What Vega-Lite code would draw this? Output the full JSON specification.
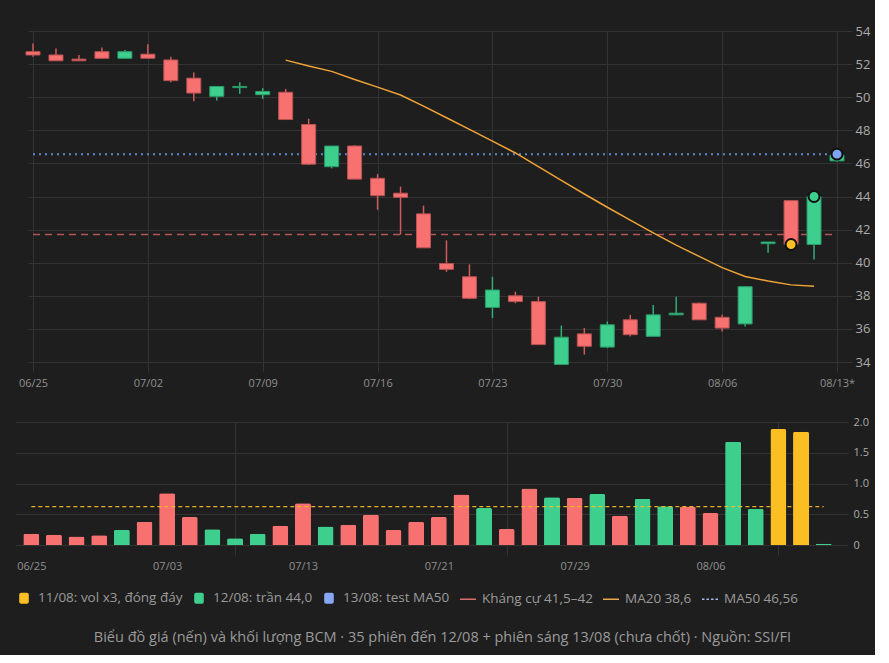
{
  "$schema": "https://vega.github.io/schema/vega-lite/v6.json",
  "background": "#1e1e1e",
  "padding": {"left": 15, "top": 25, "right": 5, "bottom": 10},
  "config": {
    "font": "Open Sans",
    "view": {"stroke": null},
    "axis": {
      "domain": false,
      "gridColor": "#333333",
      "tickColor": "#333333",
      "labelColor": "#8f8f8f",
      "labelFontSize": 11,
      "title": null
    },
    "legend": {
      "orient": "bottom",
      "direction": "horizontal",
      "title": null,
      "labelColor": "#9a9a9a",
      "labelFontSize": 13.5,
      "labelOffset": 5,
      "columnPadding": 7,
      "symbolSize": 256,
      "symbolOpacity": 1,
      "offset": 18
    }
  },
  "title": {
    "text": "Biểu đồ giá (nến) và khối lượng BCM · 35 phiên đến 12/08 + phiên sáng 13/08 (chưa chốt) · Nguồn: SSI/FI",
    "orient": "bottom",
    "anchor": "middle",
    "color": "#9a9a9a",
    "fontSize": 14.5,
    "fontWeight": "normal",
    "offset": 24
  },
  "datasets": {
    "sessions": [
      {"i": 0, "o": 52.75, "h": 53.25, "l": 52.45, "c": 52.55, "v": 0.184},
      {"i": 1, "o": 52.55, "h": 52.95, "l": 52.2, "c": 52.2, "v": 0.168},
      {"i": 2, "o": 52.3, "h": 52.55, "l": 52.2, "c": 52.2, "v": 0.14},
      {"i": 3, "o": 52.75, "h": 53.0, "l": 52.35, "c": 52.35, "v": 0.157},
      {"i": 4, "o": 52.35, "h": 52.85, "l": 52.35, "c": 52.75, "v": 0.25},
      {"i": 5, "o": 52.6, "h": 53.2, "l": 52.35, "c": 52.35, "v": 0.38},
      {"i": 6, "o": 52.25, "h": 52.45, "l": 50.9, "c": 51.0, "v": 0.84},
      {"i": 7, "o": 51.15, "h": 51.5, "l": 49.75, "c": 50.25, "v": 0.456},
      {"i": 8, "o": 50.05, "h": 50.65, "l": 49.8, "c": 50.65, "v": 0.255},
      {"i": 9, "o": 50.58, "h": 50.9, "l": 50.2, "c": 50.65, "v": 0.108},
      {"i": 10, "o": 50.15, "h": 50.55, "l": 49.9, "c": 50.35, "v": 0.184},
      {"i": 11, "o": 50.3, "h": 50.5, "l": 48.65, "c": 48.65, "v": 0.315, "ma": 52.24},
      {"i": 12, "o": 48.35, "h": 48.7, "l": 45.9, "c": 45.95, "v": 0.68, "ma": 51.88},
      {"i": 13, "o": 45.8, "h": 47.05, "l": 45.7, "c": 47.05, "v": 0.30, "ma": 51.56},
      {"i": 14, "o": 47.05, "h": 47.1, "l": 45.05, "c": 45.05, "v": 0.33, "ma": 51.07},
      {"i": 15, "o": 45.1, "h": 45.35, "l": 43.2, "c": 44.05, "v": 0.49, "ma": 50.61},
      {"i": 16, "o": 44.2, "h": 44.6, "l": 41.7, "c": 43.95, "v": 0.245, "ma": 50.13},
      {"i": 17, "o": 42.95, "h": 43.45, "l": 40.9, "c": 40.9, "v": 0.375, "ma": 49.46},
      {"i": 18, "o": 39.95, "h": 41.35, "l": 39.45, "c": 39.6, "v": 0.456, "ma": 48.76},
      {"i": 19, "o": 39.15, "h": 39.9, "l": 37.8, "c": 37.85, "v": 0.82, "ma": 48.06},
      {"i": 20, "o": 37.3, "h": 39.15, "l": 36.65, "c": 38.35, "v": 0.60, "ma": 47.35},
      {"i": 21, "o": 38.0, "h": 38.25, "l": 37.55, "c": 37.65, "v": 0.26, "ma": 46.63},
      {"i": 22, "o": 37.65, "h": 37.95, "l": 35.05, "c": 35.05, "v": 0.92, "ma": 45.81},
      {"i": 23, "o": 33.85, "h": 36.2, "l": 33.85, "c": 35.5, "v": 0.776, "ma": 44.97},
      {"i": 24, "o": 35.7, "h": 36.05, "l": 34.45, "c": 34.95, "v": 0.766, "ma": 44.15},
      {"i": 25, "o": 34.9, "h": 36.45, "l": 34.85, "c": 36.25, "v": 0.83, "ma": 43.35},
      {"i": 26, "o": 36.55, "h": 36.85, "l": 35.55, "c": 35.65, "v": 0.477, "ma": 42.57},
      {"i": 27, "o": 35.55, "h": 37.45, "l": 35.55, "c": 36.85, "v": 0.75, "ma": 41.8},
      {"i": 28, "o": 36.85, "h": 37.95, "l": 36.85, "c": 36.95, "v": 0.63, "ma": 41.06},
      {"i": 29, "o": 37.55, "h": 37.6, "l": 36.55, "c": 36.55, "v": 0.625, "ma": 40.38},
      {"i": 30, "o": 36.7, "h": 36.85, "l": 35.85, "c": 36.05, "v": 0.52, "ma": 39.7},
      {"i": 31, "o": 36.3, "h": 38.55, "l": 36.15, "c": 38.55, "v": 1.68, "ma": 39.17},
      {"i": 32, "o": 41.15, "h": 41.25, "l": 40.6, "c": 41.25, "v": 0.59, "ma": 38.89},
      {"i": 33, "o": 43.75, "h": 43.75, "l": 41.1, "c": 41.1, "v": 1.885, "ma": 38.66, "hl": true},
      {"i": 34, "o": 41.1, "h": 44.0, "l": 40.2, "c": 44.0, "v": 1.84, "ma": 38.57, "hl": true},
      {"i": 35, "o": 46.15, "h": 46.6, "l": 46.1, "c": 46.5, "v": 0.02}
    ],
    "dots": [
      {"i": 33, "y": 41.1, "k": "11/08: vol x3, đóng đáy"},
      {"i": 34, "y": 44.0, "k": "12/08: trần 44,0"},
      {"i": 35, "y": 46.56, "k": "13/08: test MA50"}
    ],
    "resistance": [{"i": 0, "i2": 35, "y": 41.7}],
    "ma50": [{"i": 0, "i2": 35, "y": 46.56}],
    "volavg": [{"i": 0, "i2": 35, "v": 0.625}],
    "keys": [
      {"k": "11/08: vol x3, đóng đáy"},
      {"k": "12/08: trần 44,0"},
      {"k": "13/08: test MA50"},
      {"k": "Kháng cự 41,5–42"},
      {"k": "MA20 38,6"},
      {"k": "MA50 46,56"}
    ]
  },
  "concat": [
    {
      "hconcat": [
        {
          "width": 1,
          "height": 1,
          "data": {"values": []},
          "mark": "point"
        },
        {
          "width": 814,
          "height": 331,
          "encoding": {
            "x": {
              "field": "i",
              "type": "quantitative",
              "scale": {"domain": [0, 35], "nice": false, "zero": false},
              "axis": {
                "values": [0, 5, 10, 15, 20, 25, 30, 35],
                "labelExpr": "['06/25','07/02','07/09','07/16','07/23','07/30','08/06','08/13*'][datum.value / 5]",
                "grid": true,
                "tickSize": 10,
                "labelPadding": 5,
                "labelFontSize": 11
              }
            }
          },
          "layer": [
            {
              "data": {"name": "resistance"},
              "mark": {"type": "rule", "color": "#d06060", "strokeWidth": 1.5, "strokeDash": [7, 5], "opacity": 0.85},
              "encoding": {
                "x2": {"field": "i2"},
                "y": {
                  "field": "y", "type": "quantitative",
                  "scale": {"domain": [34, 54], "nice": false, "zero": false},
                  "axis": {"orient": "right", "values": [34, 36, 38, 40, 42, 44, 46, 48, 50, 52, 54], "grid": true, "tickSize": 10, "labelPadding": 3, "labelFontSize": 13, "labelColor": "#ababab"}
                }
              }
            },
            {
              "data": {"name": "ma50"},
              "mark": {"type": "rule", "color": "#5f86c4", "strokeWidth": 2, "strokeDash": [2, 4]},
              "encoding": {
                "x2": {"field": "i2"},
                "y": {
                  "field": "y", "type": "quantitative",
                  "scale": {"domain": [34, 54], "nice": false, "zero": false},
                  "axis": {"orient": "right", "values": [34, 36, 38, 40, 42, 44, 46, 48, 50, 52, 54], "grid": true, "tickSize": 10, "labelPadding": 3, "labelFontSize": 13, "labelColor": "#ababab"}
                }
              }
            },
            {
              "data": {"name": "sessions"},
              "mark": {"type": "rule", "strokeWidth": 1.5},
              "encoding": {
                "y": {
                  "field": "l", "type": "quantitative",
                  "scale": {"domain": [34, 54], "nice": false, "zero": false},
                  "axis": {"orient": "right", "values": [34, 36, 38, 40, 42, 44, 46, 48, 50, 52, 54], "grid": true, "tickSize": 10, "labelPadding": 3, "labelFontSize": 13, "labelColor": "#ababab"}
                },
                "y2": {"field": "h"},
                "color": {
                  "condition": {"test": "datum.c < datum.o", "value": "#cf5b5b"},
                  "value": "#32ad78"
                }
              }
            },
            {
              "data": {"name": "sessions"},
              "mark": {"type": "bar", "size": 14, "strokeWidth": 1},
              "encoding": {
                "y": {
                  "field": "o", "type": "quantitative",
                  "scale": {"domain": [34, 54], "nice": false, "zero": false},
                  "axis": {"orient": "right", "values": [34, 36, 38, 40, 42, 44, 46, 48, 50, 52, 54], "grid": true, "tickSize": 10, "labelPadding": 3, "labelFontSize": 13, "labelColor": "#ababab"}
                },
                "y2": {"field": "c"},
                "fill": {
                  "condition": {"test": "datum.c < datum.o", "value": "#f87171"},
                  "value": "#3ecf8e"
                },
                "stroke": {
                  "condition": {"test": "datum.c < datum.o", "value": "#b95252"},
                  "value": "#2b9a69"
                }
              }
            },
            {
              "data": {"name": "sessions"},
              "mark": {"type": "line", "color": "#f0a336", "strokeWidth": 1.5},
              "encoding": {
                "y": {
                  "field": "ma", "type": "quantitative",
                  "scale": {"domain": [34, 54], "nice": false, "zero": false},
                  "axis": {"orient": "right", "values": [34, 36, 38, 40, 42, 44, 46, 48, 50, 52, 54], "grid": true, "tickSize": 10, "labelPadding": 3, "labelFontSize": 13, "labelColor": "#ababab"}
                }
              }
            },
            {
              "data": {"name": "dots"},
              "mark": {"type": "point", "filled": true, "size": 120, "stroke": "#111111", "strokeWidth": 2, "opacity": 1},
              "encoding": {
                "y": {
                  "field": "y", "type": "quantitative",
                  "scale": {"domain": [34, 54], "nice": false, "zero": false},
                  "axis": {"orient": "right", "values": [34, 36, 38, 40, 42, 44, 46, 48, 50, 52, 54], "grid": true, "tickSize": 10, "labelPadding": 3, "labelFontSize": 13, "labelColor": "#ababab"}
                },
                "fill": {
                  "field": "k",
                  "type": "nominal",
                  "scale": {
                    "domain": ["11/08: vol x3, đóng đáy", "12/08: trần 44,0", "13/08: test MA50"],
                    "range": ["#fbbf24", "#3ecf8e", "#7fa4f5"]
                  },
                  "legend": null
                }
              }
            }
          ]
        }
      ],
      "spacing": 12,
      "bounds": "flush"
    },
    {
      "width": 825,
      "height": 123,
      "encoding": {
        "x": {
          "field": "i",
          "type": "quantitative",
          "scale": {"domain": [-0.5, 35.5], "nice": false, "zero": false},
          "axis": {
            "values": [0, 6, 9, 12, 18, 21, 24, 30, 33],
            "labelExpr": "datum.value % 6 == 0 ? ['06/25','07/03','07/13','07/21','07/29','08/06'][datum.value / 6] : ''",
            "grid": true,
            "gridColor": {"condition": {"test": "datum.value % 12 == 9", "value": "#333333"}, "value": "transparent"},
            "tickColor": {"condition": {"test": "datum.value % 12 == 9", "value": "#333333"}, "value": "transparent"},
            "tickSize": 10,
            "labelPadding": 5,
            "labelFontSize": 11
          }
        }
      },
      "layer": [
        {
          "data": {"name": "sessions"},
          "mark": {"type": "bar", "size": 16, "cornerRadiusTopLeft": 2, "cornerRadiusTopRight": 2},
          "encoding": {
            "y": {
              "field": "v", "type": "quantitative",
              "scale": {"domain": [0, 2], "nice": false},
              "axis": {"orient": "right", "values": [0, 0.5, 1, 1.5, 2], "labelExpr": "datum.value == 0 ? '0' : format(datum.value, '.1f')", "grid": true, "tickSize": 8, "labelPadding": 5, "labelFontSize": 11, "labelColor": "#ababab"}
            },
            "color": {
              "condition": [
                {"test": "datum.hl", "value": "#fbbf24"},
                {"test": "datum.c < datum.o", "value": "#f87171"}
              ],
              "value": "#3ecf8e"
            }
          }
        },
        {
          "data": {"name": "volavg"},
          "mark": {"type": "rule", "color": "#fbbf24", "strokeWidth": 1.2, "strokeDash": [4, 3], "opacity": 0.9},
          "encoding": {
            "x2": {"field": "i2"},
            "y": {
              "field": "v", "type": "quantitative",
              "scale": {"domain": [0, 2], "nice": false},
              "axis": {"orient": "right", "values": [0, 0.5, 1, 1.5, 2], "labelExpr": "datum.value == 0 ? '0' : format(datum.value, '.1f')", "grid": true, "tickSize": 8, "labelPadding": 5, "labelFontSize": 11, "labelColor": "#ababab"}
            }
          }
        },
        {
          "data": {"name": "keys"},
          "mark": {"type": "point", "filled": true, "size": 0},
          "encoding": {
            "x": {"value": 0},
            "y": {"value": 0},
            "color": {
              "field": "k",
              "type": "nominal",
              "scale": {
                "domain": ["11/08: vol x3, đóng đáy", "12/08: trần 44,0", "13/08: test MA50", "Kháng cự 41,5–42", "MA20 38,6", "MA50 46,56"],
                "range": ["#fbbf24", "#3ecf8e", "#86a8f7", "#e07070", "#f0b050", "#a3bcf2"]
              }
            },
            "shape": {
              "field": "k",
              "type": "nominal",
              "scale": {
                "domain": ["11/08: vol x3, đóng đáy", "12/08: trần 44,0", "13/08: test MA50", "Kháng cự 41,5–42", "MA20 38,6", "MA50 46,56"],
                "range": [
                  "M-0.35,-0.69H0.35Q0.6,-0.69 0.6,-0.44V0.44Q0.6,0.69 0.35,0.69H-0.35Q-0.6,0.69 -0.6,0.44V-0.44Q-0.6,-0.69 -0.35,-0.69Z",
                  "M-0.35,-0.69H0.35Q0.6,-0.69 0.6,-0.44V0.44Q0.6,0.69 0.35,0.69H-0.35Q-0.6,0.69 -0.6,0.44V-0.44Q-0.6,-0.69 -0.35,-0.69Z",
                  "M-0.35,-0.69H0.35Q0.6,-0.69 0.6,-0.44V0.44Q0.6,0.69 0.35,0.69H-0.35Q-0.6,0.69 -0.6,0.44V-0.44Q-0.6,-0.69 -0.35,-0.69Z",
                  "M-1,-0.09H1V0.09H-1Z",
                  "M-1,-0.09H1V0.09H-1Z",
                  "M-1,-0.08H-0.69V0.08H-1Z M-0.44,-0.08H-0.13V0.08H-0.44Z M0.13,-0.08H0.44V0.08H0.13Z M0.69,-0.08H1V0.08H0.69Z"
                ]
              }
            }
          }
        }
      ]
    }
  ],
  "columns": 1,
  "spacing": 28
}
